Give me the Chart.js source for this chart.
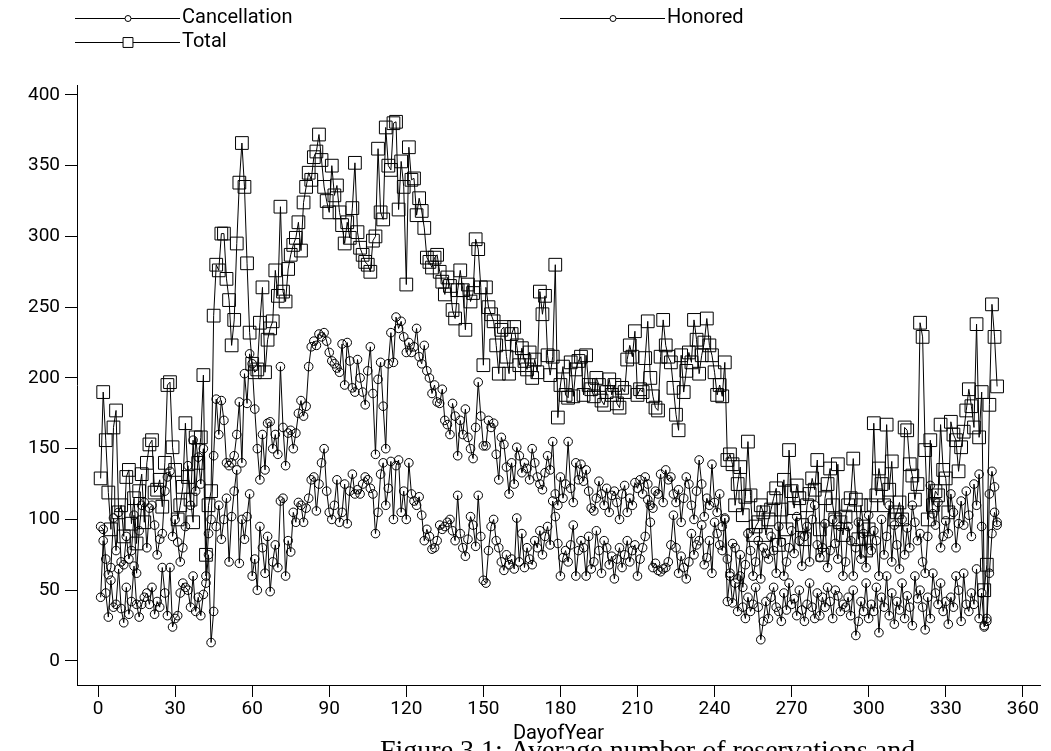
<!DOCTYPE html>
<html>
<head>
<meta charset="utf-8">
<script src="https://cdn.jsdelivr.net/npm/chart.js@4.4.1/dist/chart.umd.min.js"></script>
<style>
  html, body { margin: 0; padding: 0; background: #fff; }
  #wrap { width: 1051px; height: 751px; position: relative; }
</style>
</head>
<body>
<div id="wrap"><canvas id="chart"></canvas></div>
<script>
// --- Data (one value per day) ---
const cancellation = [
  95,93,72,61,66,101,78,105,70,68,
  88,72,78,103,62,92,110,112,80,108,
  110,96,75,86,90,120,130,134,88,100,
  84,70,80,95,138,110,156,120,144,125,
  150,60,90,100,145,185,160,184,170,140,
  138,140,145,160,183,140,203,182,217,210,
  178,150,128,160,135,168,169,150,160,146,
  208,165,138,161,163,150,161,175,184,173,
  180,208,222,226,223,231,229,232,226,218,
  212,210,207,204,224,195,225,212,193,190,
  213,200,190,181,205,222,189,146,199,211,
  180,150,210,232,211,243,235,240,229,218,
  225,218,222,235,215,210,223,205,200,189,
  195,183,182,192,170,167,160,182,173,145,
  170,160,178,158,150,143,165,197,173,152,
  152,170,165,168,146,128,158,153,137,118,
  140,125,151,145,133,140,136,128,150,140,
  130,125,121,133,145,135,155,118,110,130,
  115,125,155,122,112,140,128,139,127,135,
  120,108,106,115,127,118,110,122,105,117,
  120,112,100,118,124,105,115,110,126,122,
  128,118,130,125,110,108,120,118,132,112,
  135,128,130,118,112,121,98,115,130,125,
  110,100,120,142,125,102,115,110,139,112,
  105,118,95,100,72,62,83,80,58,75,
  52,68,90,78,60,70,85,58,80,76,
  72,88,78,62,95,84,60,70,80,92,
  76,102,85,67,88,95,70,100,110,82,
  73,80,97,66,78,100,83,72,95,60,
  70,95,85,60,80,98,72,90,66,103,
  78,92,85,60,100,75,88,110,70,96,
  82,65,100,75,94,80,110,98,85,90,
  70,62,88,124,104,96,112,80,88,99,
  90,118,105,80,97,113,96,120,103,88,
  125,110,132,95,25,30,118,134,123,98
];
const honored = [
  45,85,48,31,57,38,40,65,37,27,
  52,33,42,67,40,31,40,45,48,40,
  52,33,42,38,66,48,32,66,24,30,
  32,48,55,52,50,38,60,35,45,32,
  47,55,75,13,35,95,110,86,100,115,
  70,102,120,135,69,100,86,102,118,60,
  72,50,95,80,62,88,49,70,82,66,
  113,115,60,85,77,105,98,112,110,98,
  108,115,128,130,106,125,140,150,120,105,
  100,110,128,98,105,125,97,120,132,118,
  121,118,125,130,128,122,118,90,105,132,
  140,110,122,141,100,138,142,105,120,100,
  140,118,113,110,116,103,85,93,88,79,
  80,85,96,93,95,98,100,92,85,117,
  90,80,74,86,102,96,81,117,88,57,
  55,78,95,100,85,80,70,64,75,68,
  72,65,101,70,90,66,80,72,68,85,
  80,92,75,88,95,82,113,102,83,60,
  73,78,70,82,96,60,78,85,80,60,
  88,65,70,92,78,62,85,80,68,74,
  58,72,80,66,75,85,70,78,82,60,
  72,80,88,114,98,66,69,64,63,65,
  66,70,82,103,80,62,74,66,58,70,
  90,75,82,85,96,68,73,85,62,98,
  90,82,78,101,42,60,41,55,35,60,
  38,30,45,35,40,52,38,15,28,42,
  30,45,52,38,35,28,48,36,55,40,
  44,32,50,36,28,40,55,38,30,48,
  32,45,38,52,42,30,50,46,35,40,
  38,45,32,50,18,28,42,35,55,30,
  40,35,52,20,45,38,60,32,48,26,
  42,36,55,30,46,38,25,60,44,50,
  38,22,45,30,62,48,40,55,35,42,
  26,45,38,60,50,28,62,40,35,48,
  40,65,30,48,24,28,62,90,105,96
];
const total = [
  129,190,156,119,93,165,177,105,110,88,
  130,135,97,115,83,120,132,98,140,153,
  156,119,121,128,109,140,195,197,151,135,
  100,110,123,168,130,114,98,158,140,158,
  202,75,110,120,244,280,276,302,302,270,
  255,223,241,295,338,366,335,281,232,210,
  204,206,239,264,204,227,235,240,276,258,
  321,261,254,277,287,294,299,310,290,324,
  335,345,340,356,360,372,354,335,325,317,
  350,329,336,317,308,295,310,299,320,352,
  303,292,287,282,280,275,297,300,362,317,
  312,377,350,347,380,381,319,353,335,266,
  363,340,341,315,327,318,306,285,282,278,
  285,287,275,268,259,271,265,248,242,262,
  276,262,234,266,254,260,298,291,264,209,
  264,250,245,240,223,203,234,236,215,203,
  231,236,223,209,221,212,206,218,200,213,
  204,261,245,258,216,202,215,280,172,195,
  208,188,186,211,187,206,212,215,188,216,
  195,192,187,200,195,184,181,190,199,188,
  195,182,179,193,190,213,223,215,233,188,
  192,190,214,240,200,187,179,177,215,241,
  223,215,211,193,174,163,216,190,205,218,
  211,241,227,203,216,225,242,223,216,204,
  188,195,187,211,142,146,139,110,125,137,
  103,116,155,117,89,95,98,110,105,89,
  100,107,115,122,82,107,128,93,149,120,
  108,124,115,96,86,110,118,129,121,142,
  93,75,115,125,136,110,100,139,98,89,
  102,110,115,143,114,86,110,95,78,93,
  110,168,117,136,125,110,167,121,141,100,
  105,112,100,165,163,139,131,114,125,239,
  229,149,100,156,110,120,117,167,135,129,
  105,169,160,156,134,151,162,177,192,180,
  165,238,158,190,50,68,181,252,229,194
];
const firstDay = 1;
const xTicks = [0, 30, 60, 90, 120, 150, 180, 210, 240, 270, 300, 330, 360];
const yTicks = [0, 50, 100, 150, 200, 250, 300, 350, 400];
const seriesNames = ['Cancellation', 'Honored', 'Total'];
const xTitle = 'DayofYear';
const caption = 'Figure 3.1: Average number of reservations and';

const FONT = "'Liberation Sans Narrow', 'Roboto', 'Liberation Sans', sans-serif";

function toPoints(values) {
  return values.map((v, i) => ({ x: firstDay + i, y: v }));
}

// legend drawn by hand so it sits like the original (two rows, Honored far right)
const legendPlugin = {
  id: 'customLegend',
  afterDraw(chart) {
    const ctx = chart.ctx;
    const spots = [
      { ds: 0, x0: 75, y: 18 },
      { ds: 1, x0: 560, y: 18 },
      { ds: 2, x0: 75, y: 42 }
    ];
    ctx.save();
    spots.forEach(s => {
      const ds = chart.data.datasets[s.ds];
      ctx.strokeStyle = '#000';
      ctx.lineWidth = 1;
      ctx.beginPath();
      ctx.moveTo(s.x0, s.y + 0.5);
      ctx.lineTo(s.x0 + 105, s.y + 0.5);
      ctx.stroke();
      ctx.fillStyle = '#fff';
      ctx.strokeStyle = '#000';
      Chart.helpers.drawPoint(ctx, {
        pointStyle: ds.pointStyle,
        radius: s.ds === 2 ? 7 : 3,
        borderWidth: 1
      }, s.x0 + 53, s.y + 0.5);
      ctx.fillStyle = '#000';
      ctx.font = '20px ' + FONT;
      ctx.textBaseline = 'middle';
      ctx.textAlign = 'left';
      ctx.fillText(ds.label, s.x0 + 107, s.y);
    });
    // caption below the figure, mostly cut by the page edge
    ctx.font = '28px "Liberation Serif", "DejaVu Serif", serif';
    ctx.textBaseline = 'top';
    ctx.fillText(caption, 380, 738);
    ctx.restore();
  }
};

const lineStyle = (label, values, style, radius) => ({
  label: label,
  data: toPoints(values),
  borderColor: '#000',
  borderWidth: 1,
  pointStyle: style,
  pointRadius: radius,
  pointBorderColor: '#000',
  pointBackgroundColor: 'rgba(255,255,255,0)',
  pointBorderWidth: 1,
  tension: 0,
  fill: false
});

const ctx = document.getElementById('chart').getContext('2d');
new Chart(ctx, {
  type: 'line',
  data: {
    datasets: [
      lineStyle(seriesNames[0], cancellation, 'circle', 4.3),
      lineStyle(seriesNames[1], honored, 'circle', 4.3),
      lineStyle(seriesNames[2], total, 'rect', 9)
    ]
  },
  options: {
    responsive: true,
    maintainAspectRatio: false,
    animation: false,
    layout: { padding: { left: 0, top: 85, right: 11, bottom: 0 } },
    plugins: {
      legend: { display: false },
      title: { display: false },
      tooltip: { enabled: false }
    },
    scales: {
      x: {
        type: 'linear',
        min: -8.2,
        max: 366.7,
        afterBuildTicks: scale => { scale.ticks = xTicks.map(v => ({ value: v })); },
        afterFit: scale => { scale.height = 66; },
        border: { display: true, color: '#000', width: 1 },
        grid: { display: true, drawOnChartArea: false, drawTicks: true, tickLength: 12, color: '#000' },
        ticks: {
          color: '#000',
          font: { family: FONT, size: 19 },
          padding: 1,
          maxRotation: 0,
          autoSkip: false
        },
        title: {
          display: true,
          text: xTitle,
          color: '#000',
          font: { family: FONT, size: 20 },
          padding: { top: 0, bottom: 5 }
        }
      },
      y: {
        min: -17,
        max: 407,
        afterBuildTicks: scale => { scale.ticks = yTicks.map(v => ({ value: v })); },
        afterFit: scale => { scale.width = 77; },
        border: { display: true, color: '#000', width: 1 },
        grid: { display: true, drawOnChartArea: false, drawTicks: true, tickLength: 12, color: '#000' },
        ticks: {
          color: '#000',
          font: { family: FONT, size: 19 },
          padding: 5
        }
      }
    }
  },
  plugins: [legendPlugin]
});
</script>
</body>
</html>
